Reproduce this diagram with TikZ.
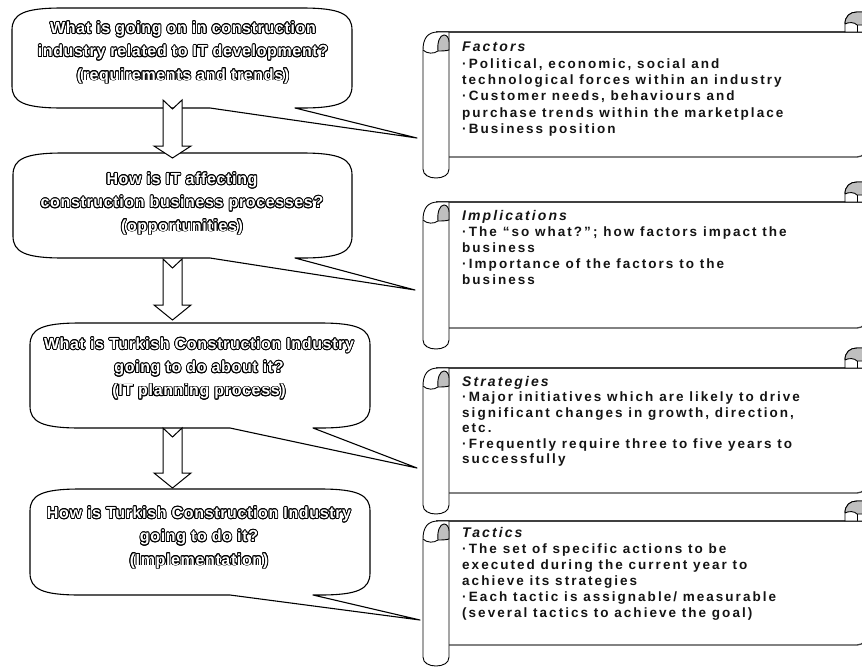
\documentclass[tikz,border=0pt]{standalone}
\usepackage{fontspec}
\setmainfont{Liberation Sans}
\usepackage[copies]{contour}
\contourlength{0.85pt}
\contournumber{16}
\newfontfamily\bubblefont[LetterSpace=4]{Liberation Sans}
\newfontfamily\scrollfont[LetterSpace=15]{Liberation Sans}

\tikzset{
  bubbleline/.style={draw=black, line width=1.1pt, fill=white, line join=round},
  bubbletext/.style={text=white, align=center, inner sep=0pt,
    font=\bubblefont\bfseries\fontsize{16}{23.3}\selectfont},
  blockarrow/.style={draw=black, line width=1pt, fill=white, line join=miter},
  scrolledge/.style={draw=black!75, line width=1.3pt},
  scrollline/.style={draw=black, line width=0.9pt, fill=white},
  rollgray/.style={fill=black!25, draw=black, line width=0.9pt},
  rollline/.style={draw=black, line width=0.9pt},
  scrolltext/.style={anchor=north west, align=left, inner sep=0pt, text=black!92,
    font=\scrollfont\bfseries\fontsize{13.5}{16}\selectfont},
}

% L T R B p1 p2 tipx tipy
\newcommand\drawbubble[8]{%
  \draw[bubbleline] (#1,{#2+22}) .. controls (#1,{#2+6}) and ({#1+12},#2) .. ({#1+50},#2)
    -- ({#3-50},#2) .. controls ({#3-12},#2) and (#3,{#2+6}) .. (#3,{#2+22})
    -- (#3,{#4-22}) .. controls (#3,{#4-6}) and ({#3-12},#4) .. ({#3-50},#4)
    -- (#6,#4) -- (#7,#8) -- (#5,#4)
    -- ({#1+50},#4) .. controls ({#1+12},#4) and (#1,{#4-6}) .. (#1,{#4-22}) -- cycle;}

% tail y, head start y, tip y
\newcommand\drawblockarrow[3]{%
  \draw[blockarrow] (163,#1) -- (172.5,{#1+9}) -- (182,#1) -- (182,#2) -- (191,#2)
    -- (172.5,#3) -- (154,#2) -- (163,#2) -- cycle;}

% T B
\newcommand\drawscroll[2]{%
  \fill[white] (436,#1) rectangle (880,#2);
  \draw[scrolledge] (436,#1) -- (880,#1);
  \draw[scrolledge] (449,#2) -- (857,#2) .. controls (860,#2) and (862,{#2-1}) .. (865,{#2-4});
  \draw[scrollline] (845,#1) -- (845,{#1-8}) .. controls (845,{#1-16}) and (850,{#1-20}) .. (857,{#1-20})
    -- (880,{#1-20}) -- (880,#1) -- cycle;
  \draw[rollgray] (845,{#1-8}) .. controls (845,{#1-16}) and (850,{#1-20}) .. (857,{#1-20})
    -- (880,{#1-20}) -- (880,{#1-7}) -- (857,{#1-7}) .. controls (855,{#1-10}) and (848,{#1-10}) .. (845,{#1-8});
  \draw[rollline] (857,#1) -- (857,{#1-7});
  \draw[scrollline] (423,{#1+18}) .. controls (423,{#1+6}) and (428,#1) .. (438,#1) -- (449,#1)
    -- (449,{#2+12}) .. controls (449,{#2+18}) and (443,{#2+21}) .. (436,{#2+21})
    .. controls (429,{#2+21}) and (423,{#2+18}) .. (423,{#2+12}) -- cycle;
  \draw[rollline] (423,{#1+18}) .. controls (427,{#1+22}) and (434,{#1+22}) .. (438,{#1+19});
  \draw[rollgray] (438,{#1+19}) .. controls (437,{#1+10}) and (440,{#1+3}) .. (444,{#1+3})
    .. controls (447,{#1+3}) and (449,{#1+6}) .. (449,{#1+10}) -- (449,{#1+18})
    .. controls (446,{#1+19}) and (441,{#1+19}) .. (438,{#1+19});}

\begin{document}
\begin{tikzpicture}[x=1pt,y=-1pt]
\useasboundingbox (0,0) rectangle (862,667);
\fill[white] (0,0) rectangle (862,667);
\clip (0,0) rectangle (862,667);

% scrolls
\drawscroll{32}{157}
\drawscroll{202}{328}
\drawscroll{368}{493}
\drawscroll{521}{645}

% bubbles
\drawbubble{12}{8}{352}{108}{210}{295}{417}{138}
\drawbubble{13}{153}{352}{258}{210}{295}{415}{290}
\drawbubble{30}{323}{370}{428}{230}{313}{417}{468}
\drawbubble{30}{489}{370}{595}{230}{313}{420}{620}

% arrows
\drawblockarrow{100}{146}{158}
\drawblockarrow{259}{305}{320}
\drawblockarrow{428}{473}{488}

% bubble texts
\node[bubbletext] (b1) at (183,53) {\contour{black}{What is going on in construction}\\
  \contour{black}{industry related to IT development?}\\
  \contour{black}{(requirements and trends)}};
\node[bubbletext] (b2) at (182,204) {\contour{black}{How is IT affecting}\\
  \contour{black}{construction business processes?}\\
  \contour{black}{(opportunities)}};
\node[bubbletext] (b3) at (199,369) {\contour{black}{What is Turkish Construction Industry}\\
  \contour{black}{going to do about it?}\\
  \contour{black}{(IT planning process)}};
\node[bubbletext] (b4) at (199,538) {\contour{black}{How is Turkish Construction Industry}\\
  \contour{black}{going to do it?}\\
  \contour{black}{(Implementation)}};

% scroll texts
\node[scrolltext, font=\scrollfont\bfseries\fontsize{13.5}{16.3}\selectfont] (s1) at (462,42) {{\itshape\fontsize{14}{17}\selectfont Factors}\\
  ·\,Political, economic, social and\\
  technological forces within an industry\\
  ·\,Customer needs, behaviours and\\
  purchase trends within the marketplace\\
  ·\,Business position};
\node[scrolltext] (s2) at (462,210) {{\itshape\fontsize{14}{17}\selectfont Implications}\\
  ·\,The “so what?”; how factors impact the\\
  business\\
  ·\,Importance of the factors to the\\
  business};
\node[scrolltext, font=\scrollfont\bfseries\fontsize{13.5}{15.5}\selectfont] (s3) at (462,376) {{\itshape\fontsize{14}{17}\selectfont Strategies}\\
  ·\,Major initiatives which are likely to drive\\
  significant changes in growth, direction,\\
  etc.\\
  ·\,Frequently require three to five years to\\
  successfully};
\node[scrolltext] (s4) at (462,527) {{\itshape\fontsize{14}{17}\selectfont Tactics}\\
  ·\,The set of specific actions to be\\
  executed during the current year to\\
  achieve its strategies\\
  ·\,Each tactic is assignable/ measurable\\
  (several tactics to achieve the goal)};
\end{tikzpicture}
\end{document}
